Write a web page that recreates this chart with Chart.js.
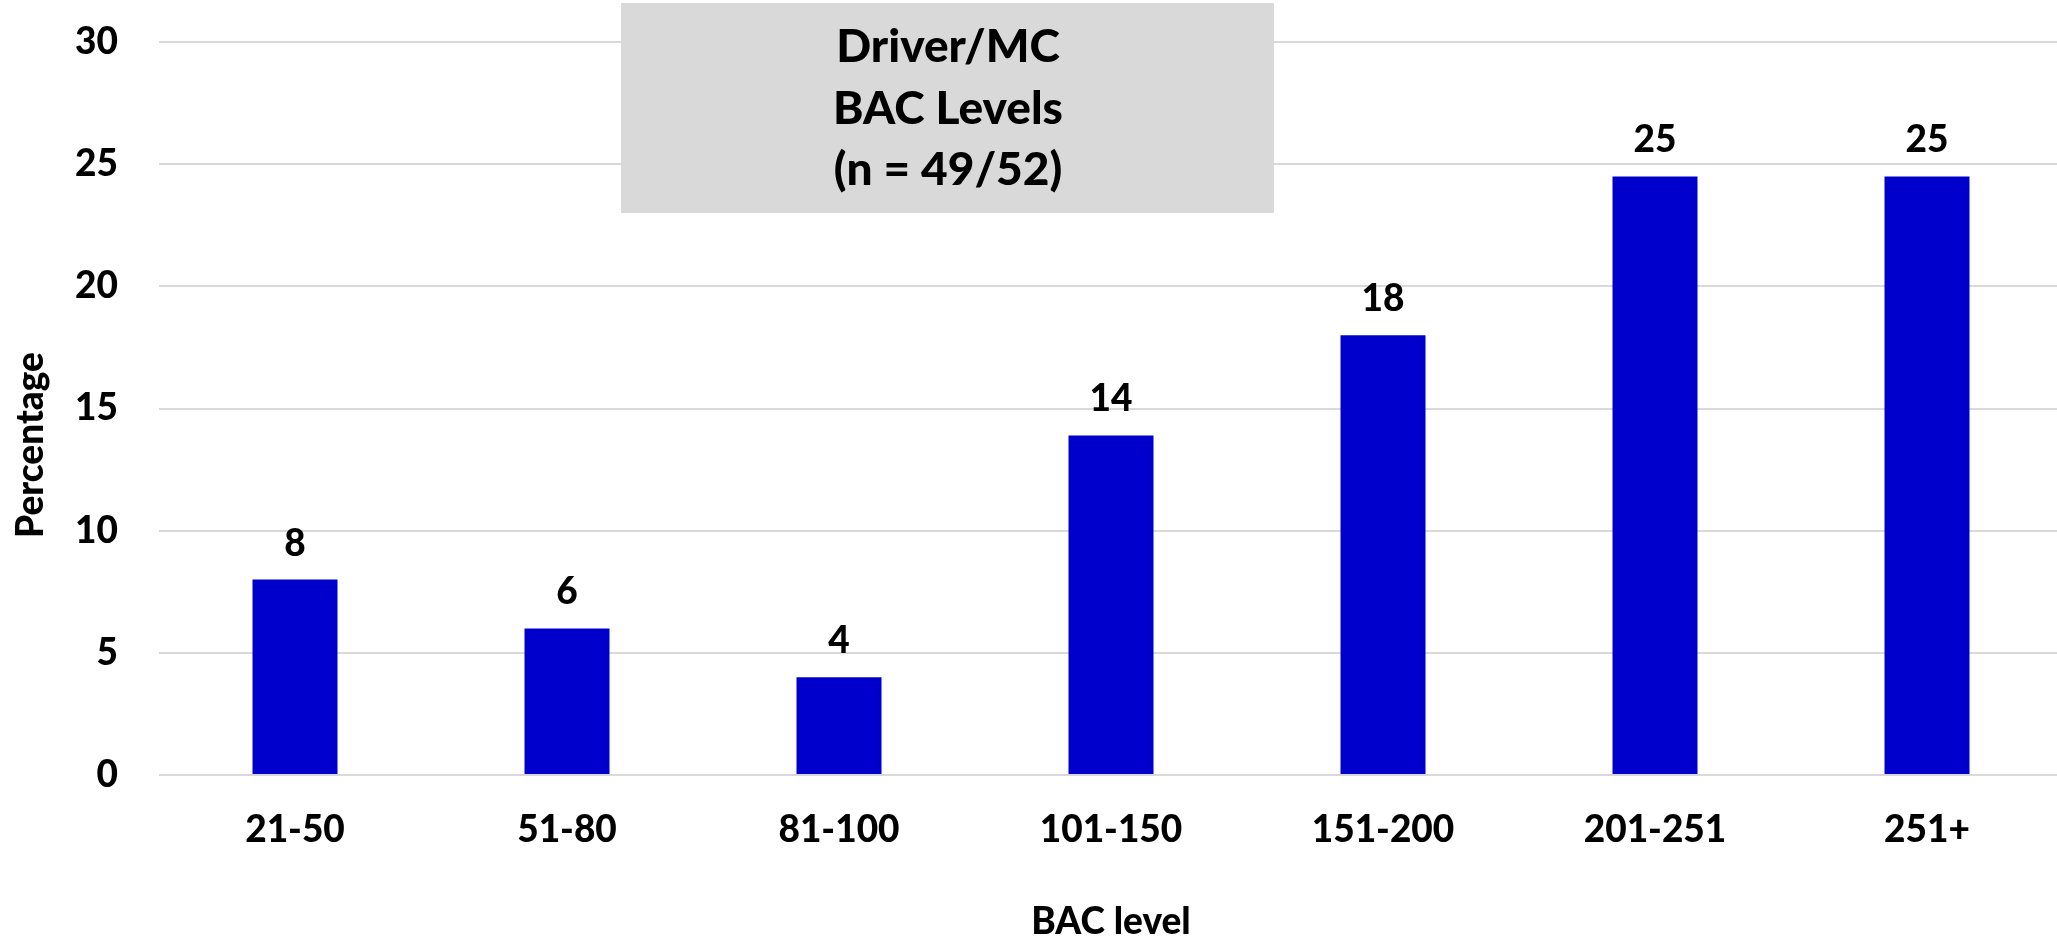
<!DOCTYPE html>
<html>
<head>
<meta charset="utf-8">
<title>Driver/MC BAC Levels</title>
<script src="https://cdn.jsdelivr.net/npm/chart.js@4.4.0/dist/chart.umd.min.js"></script>
<style>
  html, body { margin: 0; padding: 0; background: #fff; overflow: hidden; }
  #wrap { width: 2063px; height: 939px; }
</style>
</head>
<body>
<div id="wrap"><canvas id="grafico"></canvas></div>
<script>
// Data
const categories = ["21-50", "51-80", "81-100", "101-150", "151-200", "201-251", "251+"];
const percentages = [8, 6, 4, 13.9, 18, 24.5, 24.5];
const yMin = 0;
const yMax = 30;
const yStep = 5;
const titleLines = ["Driver/MC", "BAC Levels", "(n = 49/52)"];
const xTitle = "BAC level";
const yTitle = "Percentage";

const FONT = "Lato, 'Open Sans', sans-serif";
const WEIGHT = 900;

// grey title box in the upper middle
const titleBox = {
  id: "titleBox",
  beforeDatasetsDraw(chart) {
    const { ctx } = chart;
    ctx.save();
    ctx.fillStyle = "#d9d9d9";
    ctx.fillRect(621, 3, 653, 210);
    ctx.fillStyle = "#000";
    ctx.font = `${WEIGHT} 46px ${FONT}`;
    ctx.textAlign = "center";
    ctx.textBaseline = "alphabetic";
    const baselines = [62, 124, 185];
    titleLines.forEach((line, i) => ctx.fillText(line, 948, baselines[i]));
    ctx.restore();
  }
};

// values above the bars
const valueLabels = {
  id: "valueLabels",
  afterDatasetsDraw(chart) {
    const { ctx } = chart;
    const meta = chart.getDatasetMeta(0);
    ctx.save();
    ctx.font = `${WEIGHT} 37px ${FONT}`;
    ctx.fillStyle = "#000";
    ctx.textAlign = "center";
    ctx.textBaseline = "alphabetic";
    meta.data.forEach((bar, i) => {
      ctx.fillText(String(Math.round(percentages[i])), bar.x, bar.y - 24);
    });
    ctx.restore();
  }
};

// rotated y axis title, sits a bit below the middle like the original
const yAxisTitle = {
  id: "yAxisTitle",
  afterDraw(chart) {
    const { ctx } = chart;
    ctx.save();
    ctx.translate(31, 445);
    ctx.rotate(-Math.PI / 2);
    ctx.font = `${WEIGHT} 37px ${FONT}`;
    ctx.fillStyle = "#000";
    ctx.textAlign = "center";
    ctx.textBaseline = "middle";
    ctx.fillText(yTitle, 0, 0);
    ctx.restore();
  }
};

function draw() {
  const ctx = document.getElementById("grafico").getContext("2d");
  new Chart(ctx, {
    type: "bar",
    data: {
      labels: categories,
      datasets: [{
        data: percentages,
        backgroundColor: "#0000cc",
        borderWidth: 0,
        categoryPercentage: 1,
        barPercentage: 0.3125
      }]
    },
    options: {
      responsive: true,
      maintainAspectRatio: false,
      animation: false,
      layout: { padding: { top: 42, right: 0, left: 0, bottom: 0 } },
      plugins: {
        legend: { display: false },
        tooltip: { enabled: false },
        title: { display: false }
      },
      scales: {
        x: {
          grid: { display: false },
          border: { display: false },
          ticks: {
            color: "#000",
            padding: 25,
            maxRotation: 0,
            font: { family: FONT, size: 37, weight: WEIGHT }
          },
          title: {
            display: true,
            text: xTitle,
            color: "#000",
            padding: { top: 0, bottom: 2 },
            font: { family: FONT, size: 37, weight: WEIGHT, lineHeight: 0.8 }
          },
          afterFit: (scale) => { scale.height = 164; }
        },
        y: {
          min: yMin,
          max: yMax,
          border: { display: false },
          grid: { color: "#d9d9d9", lineWidth: 2, drawTicks: false },
          ticks: {
            stepSize: yStep,
            color: "#000",
            padding: 41,
            font: { family: FONT, size: 37, weight: WEIGHT }
          },
          afterFit: (scale) => {
            scale.width = 159;
            // tick padding is only meant horizontally here
            scale.paddingTop = 0;
            scale.paddingBottom = 0;
          }
        }
      }
    },
    plugins: [titleBox, valueLabels, yAxisTitle]
  });
}

document.fonts.load(`${WEIGHT} 37px Lato`).then(draw, draw);
</script>
</body>
</html>
